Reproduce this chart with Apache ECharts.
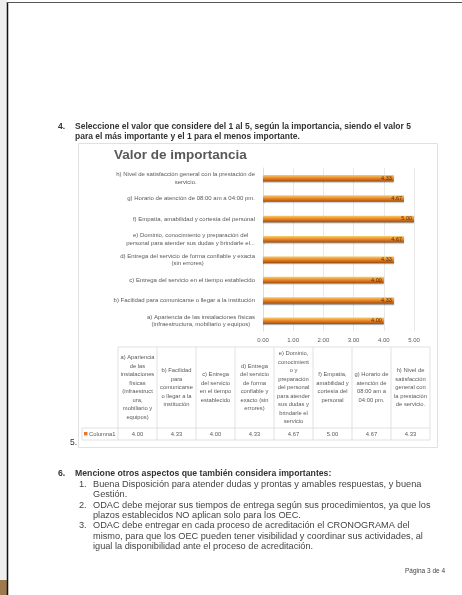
<!DOCTYPE html>
<html><head><meta charset="utf-8">
<script src="https://cdn.jsdelivr.net/npm/echarts@6/dist/echarts.min.js"></script>
<style>html,body{margin:0;padding:0;background:#fff}#c{width:462px;height:595px}</style>
</head><body><div id="c"></div>
<script>
// ---- data ----
const categories = [
  'a) Apariencia de las instalaciones físicas\n(infraestructura, mobiliario y equipos)',
  'b) Facilidad para comunicarse o llegar a la institución',
  'c) Entrega del servicio en el tiempo establecido',
  'd) Entrega del servicio de forma confiable y exacta\n(sin errores)',
  'e) Dominio, conocimiento y preparación del\npersonal para atender sus dudas y brindarle el...',
  'f) Empatía, amabilidad y cortesía del personal',
  'g) Horario de atención de 08:00 am a 04:00 pm.',
  'h) Nivel de satisfacción general con la prestación de\nservicio.'
];
const values = [4.00, 4.33, 4.00, 4.33, 4.67, 5.00, 4.67, 4.33];
const seriesName = 'Columna1';
const tableHeaders = [
  'a) Apariencia\nde las\ninstalaciones\nfísicas\n(infraestruct\nura,\nmobiliario y\nequipos)',
  'b) Facilidad\npara\ncomunicarse\no llegar a la\ninstitución',
  'c) Entrega\ndel servicio\nen el tiempo\nestablecido',
  'd) Entrega\ndel servicio\nde forma\nconfiable y\nexacto (sin\nerrores)',
  'e) Dominio,\nconocimient\no y\npreparación\ndel personal\npara atender\nsus dudas y\nbrindarle el\nservicio',
  'f) Empatía,\namabilidad y\ncortesía del\npersonal',
  'g) Horario de\natención de\n08:00 am a\n04:00 pm.',
  'h) Nivel de\nsatisfacción\ngeneral con\nla prestación\nde servicio.'
];
const axisMin = 0, axisMax = 5, axisStep = 1;
const chartTitle = 'Valor de importancia';
const questionNo = '4.';
const questionLines = [
  'Seleccione el valor que considere del 1 al 5, según la importancia, siendo el valor 5',
  'para el más importante y el 1 para el menos importante.'
];
const q6Title = 'Mencione otros aspectos que también considera importantes:';
const q6Items = [
  ['1.', 'Buena Disposición para atender dudas y prontas y amables respuestas, y buena', 'Gestión.'],
  ['2.', 'ODAC debe mejorar sus tiempos de entrega según sus procedimientos, ya que los', 'plazos establecidos NO aplican solo para los OEC.'],
  ['3.', 'ODAC debe entregar en cada proceso de acreditación el CRONOGRAMA del', 'mismo, para que los OEC pueden tener visibilidad y coordinar sus actividades, al', 'igual la disponibilidad ante el proceso de acreditación.']
];
const pageLabel = 'Página 3 de 4';

// ---- build ----
const chart = echarts.init(document.getElementById('c'), null, {renderer: 'canvas'});
const FONT = '"Liberation Sans", Arial, sans-serif';
const g = [];
const T = (x, y, text, o) => g.push(Object.assign({type: 'text', x, y, silent: true,
  style: Object.assign({text, fill: '#333', font: '7.5px ' + FONT, textVerticalAlign: 'middle'}, o || {})}));

// page frame (scan)
g.push({type: 'rect', shape: {x: 0, y: 0, width: 7, height: 595}, style: {fill: '#eeeeee'}});
g.push({type: 'rect', shape: {x: 0, y: 580, width: 7, height: 15}, style: {fill: '#9c7a4e'}});
g.push({type: 'line', shape: {x1: 7.5, y1: 2, x2: 7.5, y2: 595}, style: {stroke: '#111', lineWidth: 1.5}});
g.push({type: 'line', shape: {x1: 7, y1: 2.5, x2: 462, y2: 2.5}, style: {stroke: '#555', lineWidth: 1}});

// question 4
const HB = 'bold 8.5px ' + FONT;
T(58, 127, questionNo, {font: HB});
questionLines.forEach((l, i) => T(75, 127 + i * 9.5, l, {font: HB}));

// chart box
g.push({type: 'rect', shape: {x: 78.5, y: 143.5, width: 359, height: 304}, style: {fill: 'none', stroke: '#d9d9d9', lineWidth: 0.8}});
T(114, 155, chartTitle, {font: 'bold 13.5px ' + FONT, fill: '#595959'});

// data table
const tX0 = 118, colW = 39, tTop = 347, tMid = 428, tBot = 440, rowX = 82;
const lc = '#d9d9d9';
g.push({type: 'line', shape: {x1: tX0, y1: tTop, x2: tX0 + colW * 8, y2: tTop}, style: {stroke: lc, lineWidth: 0.8}});
g.push({type: 'line', shape: {x1: rowX, y1: tMid, x2: tX0 + colW * 8, y2: tMid}, style: {stroke: lc, lineWidth: 0.8}});
g.push({type: 'line', shape: {x1: rowX, y1: tBot, x2: tX0 + colW * 8, y2: tBot}, style: {stroke: lc, lineWidth: 0.8}});
g.push({type: 'line', shape: {x1: rowX, y1: tMid, x2: rowX, y2: tBot}, style: {stroke: lc, lineWidth: 0.8}});
for (let i = 0; i <= 8; i++) {
  const x = tX0 + i * colW;
  g.push({type: 'line', shape: {x1: x, y1: tTop, x2: x, y2: tBot}, style: {stroke: lc, lineWidth: 0.8}});
}
const TF = '5.8px ' + FONT;
tableHeaders.forEach((h, i) => T(tX0 + colW * (i + 0.5), (tTop + tMid) / 2, h,
  {font: TF, fill: '#595959', textAlign: 'center', lineHeight: 8.5}));
values.forEach((v, i) => T(tX0 + colW * (i + 0.5), (tMid + tBot) / 2, v.toFixed(2),
  {font: TF, fill: '#595959', textAlign: 'center'}));
g.push({type: 'rect', shape: {x: 84, y: 432, width: 3.5, height: 3.5}, style: {fill: '#e8792a'}});
T(89, 434, seriesName, {font: TF, fill: '#595959'});

T(70, 443, '5.', {font: '8.5px ' + FONT});

// question 6
const HB6 = 'bold 8.7px ' + FONT;
T(58, 474, '6.', {font: HB6});
T(75, 474, q6Title, {font: HB6});
let yy = 484.5;
const BF = '9.2px ' + FONT;
q6Items.forEach(it => {
  T(79, yy, it[0], {font: BF, fill: '#444'});
  for (let k = 1; k < it.length; k++) {
    T(93, yy, it[k], {font: BF, fill: '#444'});
    yy += 10.3;
  }
});
T(405, 571, pageLabel, {font: '6.5px ' + FONT, fill: '#444'});

chart.setOption({
  backgroundColor: '#fff',
  animation: false,
  grid: {left: 263, right: 48, top: 168, height: 163, containLabel: false},
  xAxis: {
    type: 'value', min: axisMin, max: axisMax, interval: axisStep,
    axisLine: {show: false}, axisTick: {show: false},
    splitLine: {lineStyle: {color: '#e3e3e3', width: 0.8}},
    axisLabel: {formatter: v => v.toFixed(2), fontSize: 6, color: '#595959', margin: 6, fontFamily: FONT}
  },
  yAxis: {
    type: 'category', data: categories,
    axisLine: {show: true, lineStyle: {color: '#d9d9d9', width: 0.8}}, axisTick: {show: false},
    axisLabel: {
      fontSize: 6, color: '#595959', margin: 8, fontFamily: FONT,
      formatter: v => v.split('\n').map(s => '{c|' + s + '}').join('\n'),
      rich: {c: {fontSize: 6, lineHeight: 7.5, align: 'center', color: '#595959', fontFamily: FONT}}
    }
  },
  series: [{
    type: 'bar', name: seriesName, data: values, barWidth: 6.5,
    itemStyle: {
      color: new echarts.graphic.LinearGradient(0, 0, 0, 1, [
        {offset: 0, color: '#f9cf6e'}, {offset: 0.45, color: '#ee8a2c'}, {offset: 1, color: '#a34f0c'}
      ]),
      shadowColor: 'rgba(0,0,0,0.35)', shadowBlur: 1, shadowOffsetY: 1
    },
    label: {show: true, position: 'insideRight', formatter: p => p.value.toFixed(2), fontSize: 5.5, color: '#5a2d00', distance: 2}
  }],
  graphic: g
});
</script>
</body></html>
